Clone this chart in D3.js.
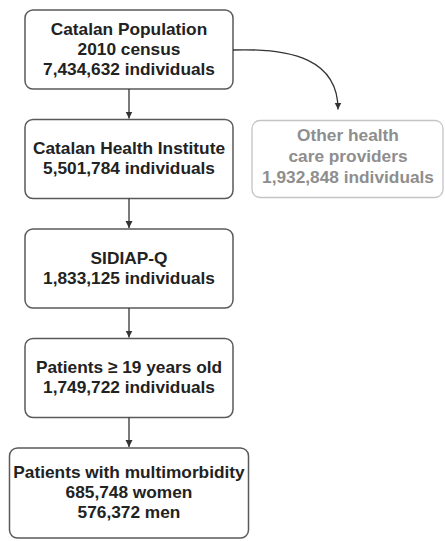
<!DOCTYPE html>
<html>
<head>
<meta charset="utf-8">
<script src="https://cdn.jsdelivr.net/npm/d3@7"></script>
<style>
  body { margin: 0; background: #fff; }
  text { font-family: "Liberation Sans", Arial, sans-serif; font-weight: bold; }
</style>
</head>
<body>
<div id="chart"></div>
<script>
// flow steps, top to bottom
const steps = [
  ["Catalan Population", "2010 census", "7,434,632 individuals"],
  ["Catalan Health Institute", "5,501,784 individuals"],
  ["SIDIAP-Q", "1,833,125 individuals"],
  ["Patients \u2265 19 years old", "1,749,722 individuals"],
  ["Patients with multimorbidity", "685,748 women", "576,372 men"]
];
// side branch leaving step 0
const excluded = ["Other health", "care providers", "1,932,848 individuals"];

const width = 445, height = 541;
const svg = d3.select("#chart").append("svg")
  .attr("width", width)
  .attr("height", height);

const defs = svg.append("defs");
defs.append("marker")
  .attr("id", "arrow")
  .attr("viewBox", "0 0 10 10")
  .attr("refX", 10).attr("refY", 5)
  .attr("markerWidth", 7).attr("markerHeight", 8)
  .attr("markerUnits", "userSpaceOnUse")
  .attr("orient", "auto")
  .append("path")
    .attr("d", "M0,0L10,5L0,10Z")
    .attr("fill", "#333");

const y = d3.scaleLinear().domain([0, steps.length - 1]).range([10, 448]);
const col = d3.scaleOrdinal().domain(["main", "side"]).range([129, 348]);
const lineH = 20;
const fs = 17.3;

const boxW = i => i === steps.length - 1 ? 239 : 208;
const boxH = i => i === steps.length - 1 ? 90 : 79;

const g = svg.selectAll("g.step")
  .data(steps)
  .enter()
  .append("g")
    .attr("class", "step");

g.append("rect")
  .attr("x", (d, i) => col("main") - boxW(i) / 2)
  .attr("y", (d, i) => y(i))
  .attr("width", (d, i) => boxW(i))
  .attr("height", (d, i) => boxH(i))
  .attr("rx", 8)
  .attr("fill", "#fff")
  .attr("stroke", "#5a5a5a")
  .attr("stroke-width", 1.5);

g.each(function(d, i) {
  const cy = y(i) + boxH(i) / 2 - 1;
  d3.select(this).selectAll("text")
    .data(d)
    .enter()
    .append("text")
      .attr("x", col("main"))
      .attr("y", (t, j) => cy + (j - (d.length - 1) / 2) * lineH)
      .attr("dy", "0.35em")
      .attr("text-anchor", "middle")
      .attr("font-size", fs)
      .attr("fill", "#222")
      .text(t => t);
});

// vertical connectors
svg.selectAll("line.link")
  .data(d3.range(steps.length - 1))
  .enter()
  .append("line")
    .attr("class", "link")
    .attr("x1", col("main"))
    .attr("x2", col("main"))
    .attr("y1", i => y(i) + boxH(i))
    .attr("y2", i => y(i + 1) - 1)
    .attr("stroke", "#333")
    .attr("stroke-width", 1.3)
    .attr("marker-end", "url(#arrow)");

// side box
const sideTop = y(1) + 1, sideH = 77;
svg.append("rect")
  .attr("x", 252)
  .attr("y", sideTop)
  .attr("width", 191)
  .attr("height", sideH)
  .attr("rx", 8)
  .attr("fill", "#fff")
  .attr("stroke", "#c4c4c4")
  .attr("stroke-width", 1.3);

svg.selectAll("text.side")
  .data(excluded)
  .enter()
  .append("text")
    .attr("class", "side")
    .attr("x", col("side"))
    .attr("y", (t, j) => sideTop + sideH / 2 - 3 + (j - 1) * 21)
    .attr("dy", "0.35em")
    .attr("text-anchor", "middle")
    .attr("font-size", fs)
    .attr("fill", "#8e8e8e")
    .text(t => t);

// curved connector to side box
const x0 = col("main") + boxW(0) / 2, y0 = y(0) + 40;
const x1 = 338, y1 = y(1) - 10;
const p = d3.path();
p.moveTo(x0, y0);
p.bezierCurveTo(x0 + 60, y0 - 2, x1, y0 + 10, x1, y1);
svg.append("path")
  .attr("d", p.toString())
  .attr("fill", "none")
  .attr("stroke", "#333")
  .attr("stroke-width", 1.3)
  .attr("marker-end", "url(#arrow)");
</script>
</body>
</html>
